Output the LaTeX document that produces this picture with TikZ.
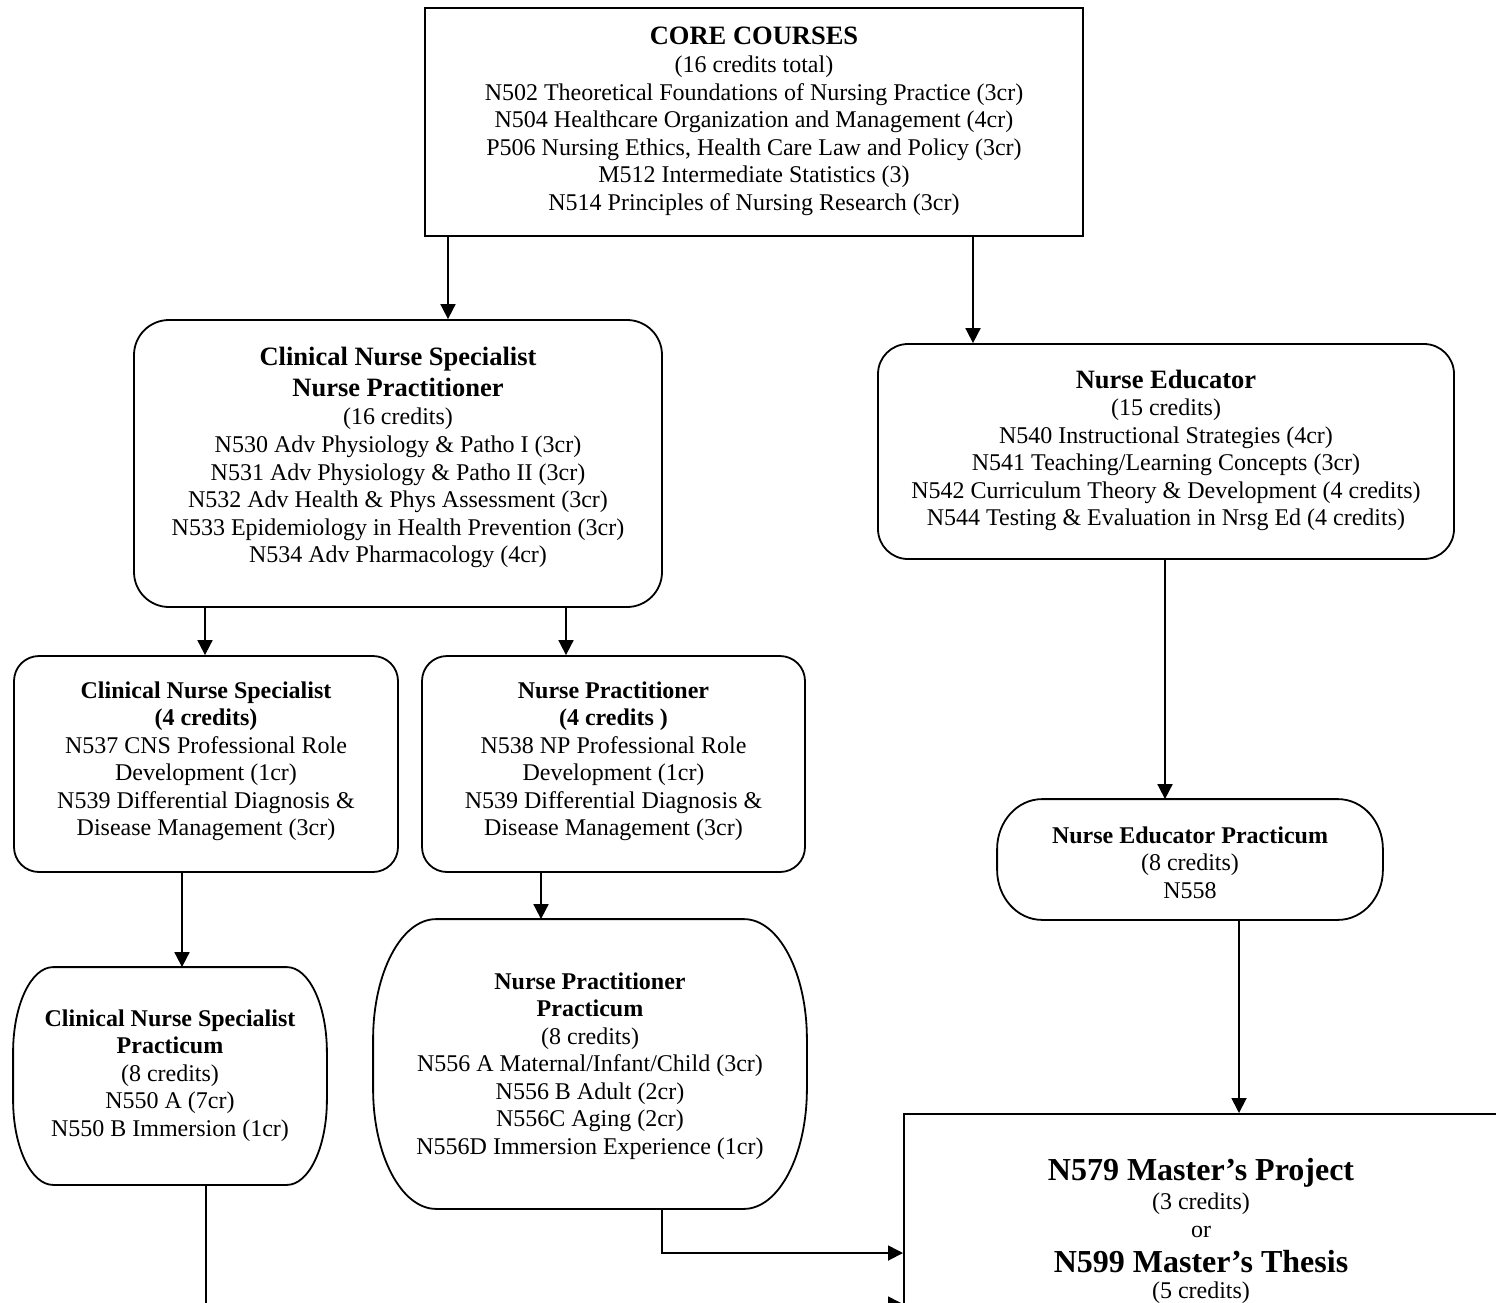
\documentclass[tikz,border=0pt]{standalone}
\usepackage{fontspec}
\setmainfont{Liberation Serif}
\usetikzlibrary{arrows.meta,calc}
\newcommand\bighd[1]{{\fontsize{26.5}{27.5}\selectfont\bfseries #1}}
\newcommand\firstrule{\rule{0pt}{20pt}}
% name, cx, cy, w, h, rx, ry
\newcommand\ellipsebox[7]{%
  \node[inner sep=0pt, minimum width=#4pt, minimum height=#5pt] (#1) at (#2,#3) {};
  \draw ($(#1.north west)+(#6,0)$) -- ($(#1.north east)+(-#6,0)$)
    arc[start angle=90,end angle=0,x radius=#6pt,y radius=#7pt]
    -- ($(#1.south east)+(0,-#7)$)
    arc[start angle=0,end angle=-90,x radius=#6pt,y radius=#7pt]
    -- ($(#1.south west)+(#6,0)$)
    arc[start angle=-90,end angle=-180,x radius=#6pt,y radius=#7pt]
    -- ($(#1.north west)+(0,#7)$)
    arc[start angle=180,end angle=90,x radius=#6pt,y radius=#7pt]
    -- cycle;}
\begin{document}
\begin{tikzpicture}[x=1pt,y=-1pt,line width=1.8pt,
  arr/.style={-{Triangle[length=15pt,width=15pt]}},
  shapebox/.style={draw,inner sep=0pt},
  txt/.style={inner sep=0pt,anchor=north,align=center,font=\fontsize{24}{27.5}\selectfont}]
\useasboundingbox (0,0) rectangle (1496,1302);
\clip (0,0) rectangle (1496,1302);

% boxes
\node[shapebox,minimum width=658pt,minimum height=228pt] (core) at (754,122) {};
\node[shapebox,rounded corners=35pt,minimum width=528pt,minimum height=287pt] (cnsnp) at (398,463.5) {};
\node[shapebox,rounded corners=30pt,minimum width=576pt,minimum height=215pt] (ne) at (1166,451.5) {};
\node[shapebox,rounded corners=25pt,minimum width=384pt,minimum height=216pt] (cns) at (206,764) {};
\node[shapebox,rounded corners=25pt,minimum width=383pt,minimum height=216pt] (np) at (613.5,764) {};
\ellipsebox{nep}{1190}{859.5}{384}{119}{45}{50}
\ellipsebox{cnspr}{170}{1076}{312}{216}{40}{85}
\ellipsebox{nppr}{590}{1064}{432}{288}{63}{120}
\node[shapebox,anchor=north west,minimum width=600pt,minimum height=300pt] (master) at (903,1113) {};

% texts
\node[txt] (tcore) at (754,24) {\firstrule\bighd{CORE COURSES}\\[0.5pt]
 (16 credits total)\\
 N502 Theoretical Foundations of Nursing Practice (3cr)\\
 N504 Healthcare Organization and Management (4cr)\\
 P506 Nursing Ethics, Health Care Law and Policy (3cr)\\
 M512 Intermediate Statistics (3)\\
 N514 Principles of Nursing Research (3cr)};
\node[txt] (tcnsnp) at (398,345) {\firstrule\bighd{Clinical Nurse Specialist}\\[3.5pt]
 \bighd{Nurse Practitioner}\\[0.5pt]
 (16 credits)\\[0.5pt]
 N530 Adv Physiology \& Patho I (3cr)\\
 N531 Adv Physiology \& Patho II (3cr)\\
 N532 Adv Health \& Phys Assessment (3cr)\\
 N533 Epidemiology in Health Prevention (3cr)\\
 N534 Adv Pharmacology (4cr)};
\node[txt] (tne) at (1166,368) {\firstrule\bighd{Nurse Educator}\\[-0.5pt]
 (15 credits)\\
 N540 Instructional Strategies (4cr)\\
 N541 Teaching/Learning Concepts (3cr)\\
 N542 Curriculum Theory \& Development (4 credits)\\
 N544 Testing \& Evaluation in Nrsg Ed (4 credits)};
\node[txt] (tcns) at (206,677.5) {\firstrule\textbf{Clinical Nurse Specialist}\\
 \textbf{(4 credits)}\\
 N537 CNS Professional Role\\
 Development (1cr)\\
 N539 Differential Diagnosis \&\\
 Disease Management (3cr)};
\node[txt] (tnp) at (613.5,677.5) {\firstrule\textbf{Nurse Practitioner}\\
 \textbf{(4 credits )}\\
 N538 NP Professional Role\\
 Development (1cr)\\
 N539 Differential Diagnosis \&\\
 Disease Management (3cr)};
\node[txt] (tnep) at (1190,822.5) {\firstrule\textbf{Nurse Educator Practicum}\\
 (8 credits)\\
 N558};
\node[txt] (tcnspr) at (170,1005.5) {\firstrule\textbf{Clinical Nurse Specialist}\\
 \textbf{Practicum}\\
 (8 credits)\\
 N550 A (7cr)\\
 N550 B Immersion (1cr)};
\node[txt] (tnppr) at (590,968.5) {\firstrule\textbf{Nurse Practitioner}\\
 \textbf{Practicum}\\
 (8 credits)\\
 N556 A Maternal/Infant/Child (3cr)\\
 N556 B Adult (2cr)\\
 N556C Aging (2cr)\\
 N556D Immersion Experience (1cr)};
\node[txt] (tmaster) at (1201,1156) {\rule{0pt}{24pt}{\fontsize{32}{27.5}\selectfont\bfseries N579 Master’s Project}\\[1.5pt]
 (3 credits)\\[0.5pt]
 or\\[7.5pt]
 {\fontsize{32}{27.5}\selectfont\bfseries N599 Master’s Thesis}\\[-1.5pt]
 (5 credits)};

% connectors
\coordinate (c1) at (448,0);
\coordinate (c2) at (973,0);
\coordinate (c3) at (205,0);
\coordinate (c4) at (566,0);
\coordinate (c5) at (182,0);
\coordinate (c6) at (541,0);
\coordinate (c7) at (1165,0);
\coordinate (c8) at (1239,0);
\coordinate (c9) at (662,1253);
\coordinate (c10) at (206,1304);
\draw[arr] (core.south -| c1) -- (cnsnp.north -| c1);
\draw[arr] (core.south -| c2) -- (ne.north -| c2);
\draw[arr] (cnsnp.south -| c3) -- (cns.north -| c3);
\draw[arr] (cnsnp.south -| c4) -- (np.north -| c4);
\draw[arr] (cns.south -| c5) -- (cnspr.north -| c5);
\draw[arr] (np.south -| c6) -- (nppr.north -| c6);
\draw[arr] (ne.south -| c7) -- (nep.north -| c7);
\draw[arr] (nep.south -| c8) -- (master.north -| c8);
\draw[arr] (nppr.south -| c9) |- (master.west |- c9);
\draw[arr] (cnspr.south -| c10) |- (master.west |- c10);
\end{tikzpicture}
\end{document}
